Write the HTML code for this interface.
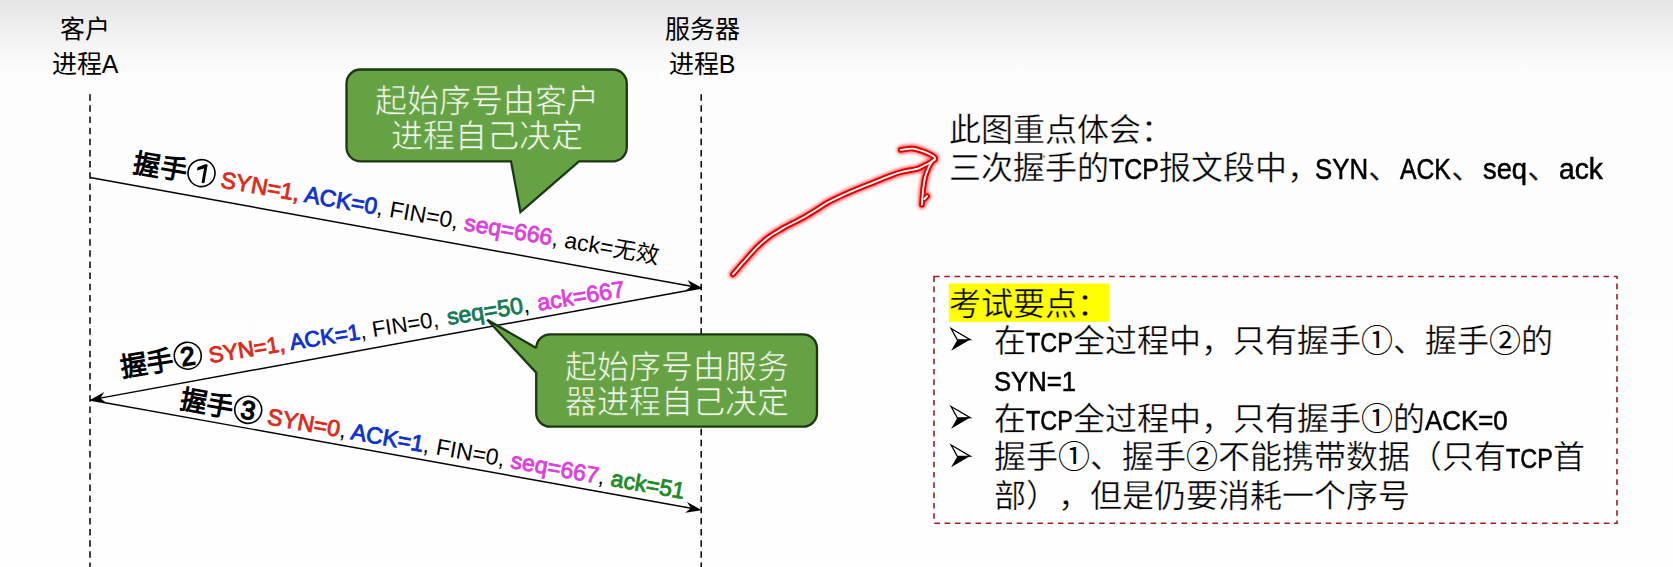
<!DOCTYPE html>
<html lang="zh-CN"><head><meta charset="utf-8">
<style>
html,body{margin:0;padding:0;}
body{width:1673px;height:567px;overflow:hidden;position:relative;
 background:linear-gradient(#e5e5e5 0px,#f0f0f0 30px,#f9f9f9 60px,#fdfdfd 76px,#fefefe 567px);
 font-family:"Liberation Sans",sans-serif;color:#000;}
.abs{position:absolute;white-space:nowrap;}
svg{position:absolute;left:0;top:0;}
.k{fill:#000}.d{fill:#000;stroke:#000;stroke-width:1.3px}.r{fill:#dc2a1a;stroke:#dc2a1a;stroke-width:.85px}.b{fill:#0c31cc;stroke:#0c31cc;stroke-width:.85px}.m{fill:#dd3fdc;stroke:#dd3fdc;stroke-width:.85px}.t{fill:#177a55;stroke:#177a55;stroke-width:.85px}.g{fill:#1d8a2a;stroke:#1d8a2a;stroke-width:.85px}
.rt{font-size:32px;line-height:38px;text-spacing-trim:space-all;-webkit-text-stroke:0.35px #fefefe}
.ns{-webkit-text-stroke:0}
.s1,.s2{display:inline-block;transform-origin:0 0;-webkit-text-stroke:0.55px #000}.s1{font-size:27px}.s2{font-size:28.8px}

</style></head><body>
<svg width="1673" height="567" viewBox="0 0 1673 567">
 <defs>
  <filter id="glow" x="-20%" y="-20%" width="140%" height="140%"><feGaussianBlur stdDeviation="1.5"/></filter>
 </defs>
 <!-- lifelines -->
 <line x1="90" y1="94.2" x2="90" y2="567" stroke="#000" stroke-width="1.5" stroke-dasharray="6.5 4.65"/>
 <line x1="701.2" y1="94.2" x2="701.2" y2="567" stroke="#000" stroke-width="1.5" stroke-dasharray="6.5 4.65"/>
 <!-- arrows -->
 <g stroke="#000" stroke-width="1.45" fill="none">
  <line x1="90" y1="177.5" x2="694" y2="286.7"/>
  <line x1="701.5" y1="288" x2="97.5" y2="398.6"/>
  <line x1="90" y1="400" x2="694" y2="508.7"/>
 </g>
 <g fill="#000">
  <path d="M0 0 L-16 -5.4 L-11 0 L-16 5.4 Z" transform="translate(702.3 288.1) rotate(10.24)"/>
  <path d="M0 0 L-16 -5.4 L-11 0 L-16 5.4 Z" transform="translate(89.5 400.2) rotate(169.62)"/>
  <path d="M0 0 L-16 -5.4 L-11 0 L-16 5.4 Z" transform="translate(701.8 510.2) rotate(10.2)"/>
 </g>
 <!-- labels -->
 <g font-family="Liberation Sans" font-size="23" >
  <g transform="translate(132 171.8) rotate(9.95)">
   <text font-weight="bold" font-size="27">握手</text>
   <circle cx="68.7" cy="-10.7" r="13.5" fill="none" stroke="#000" stroke-width="1.6"/>
   <path d="M63.8 -15.8 L70.8 -20.2 L73.3 -20.2 L73.3 -1.2 L70.4 -1.2 L70.4 -15.6 L63.8 -12.6 Z"/>
   <text x="89"><tspan class="r">SYN=1,</tspan><tspan class="b"> ACK=0</tspan><tspan class="k">, FIN=0, </tspan><tspan class="m">seq=666</tspan><tspan class="k">, ack=无效</tspan></text>
  </g>
  <g transform="translate(121.6 377.1) rotate(-9.05)">
   <text font-weight="bold" font-size="27">握手</text>
   <circle cx="68.7" cy="-10.7" r="13.5" fill="none" stroke="#000" stroke-width="1.6"/>
   <text x="68.7" y="-1.3" font-size="26" text-anchor="middle" class="d">2</text>
   <text x="89.5" font-size="22.2"><tspan class="r">SYN=1,</tspan><tspan class="b"> ACK=1</tspan><tspan class="k">, FIN=0, </tspan><tspan class="t" font-size="23.2" dx="2.5">seq=50</tspan><tspan class="k" font-size="23.2">, </tspan><tspan class="m" font-size="23.2" dx="2">ack=667</tspan></text>
  </g>
  <g transform="translate(178.7 408.2) rotate(10.2)">
   <text font-weight="bold" font-size="27">握手</text>
   <circle cx="68.7" cy="-10.7" r="13.5" fill="none" stroke="#000" stroke-width="1.6"/>
   <text x="68.7" y="-1.3" font-size="26" text-anchor="middle" class="d">3</text>
   <text x="89"><tspan class="r">SYN=0</tspan><tspan class="k">, </tspan><tspan class="b">ACK=1</tspan><tspan class="k">, FIN=0, </tspan><tspan class="m">seq=667</tspan><tspan class="k">, </tspan><tspan class="g">ack=51</tspan></text>
  </g>
 </g>
 <!-- callout 1 -->
 <path d="M360.5 69.5 H612.8 A14 14 0 0 1 626.8 83.5 V147.3 A14 14 0 0 1 612.8 161.3 H579 L520.5 212 L511 161.3 H360.5 A14 14 0 0 1 346.5 147.3 V83.5 A14 14 0 0 1 360.5 69.5 Z" fill="#64a243" stroke="#1b3813" stroke-width="2.3"/>
 <!-- callout 2 -->
 <path d="M550.2 334.3 H803 A14 14 0 0 1 817 348.3 V412.7 A14 14 0 0 1 803 426.7 H550.2 A14 14 0 0 1 536.2 412.7 V372.8 L487.3 319.8 L536.2 348 V348.3 A14 14 0 0 1 550.2 334.3 Z" fill="#64a243" stroke="#1b3813" stroke-width="2.3"/>
 <!-- red arrow -->
 <defs><path id="ra1" d="M732.9 274.4 C734.8 272.3 740.0 266.2 744.0 261.7 C748.0 257.2 752.6 251.7 756.7 247.6 C760.8 243.5 764.5 240.2 768.5 237.2 C772.5 234.2 776.5 232.0 780.6 229.6 C784.7 227.2 789.3 224.9 793.3 222.8 C797.3 220.7 800.7 219.1 804.4 217.0 C808.1 214.9 811.5 212.8 815.5 210.3 C819.5 207.9 823.3 205.0 828.2 202.3 C833.1 199.6 840.0 196.5 845.0 194.2 C850.0 191.9 853.8 190.3 858.0 188.6 C862.2 186.9 866.2 185.4 870.0 183.9 C873.8 182.4 877.1 181.0 880.6 179.6 C884.1 178.2 887.7 176.7 891.2 175.4 C894.7 174.1 898.3 172.8 901.8 171.9 C905.3 171.0 909.6 170.3 912.3 169.8 C915.0 169.3 916.2 169.3 918.0 168.7 C919.8 168.1 920.9 167.2 922.9 166.2 C924.9 165.2 928.1 163.8 930.0 162.7 C931.9 161.6 933.8 160.0 934.5 159.5"/><path id="ra2" d="M900.7 149.9 C902.7 149.7 908.6 148.3 912.6 148.6 C916.6 148.9 921.0 150.6 924.5 151.9 C928.0 153.2 932.0 155.3 933.8 156.5 C935.5 157.7 935.2 158.4 935.0 159.2 C934.8 160.0 933.5 159.8 932.4 161.2 C931.3 162.6 929.7 165.2 928.5 167.8 C927.3 170.4 926.1 173.5 925.2 177.0 C924.3 180.5 923.8 184.4 923.2 189.0 C922.7 193.6 922.1 202.2 921.9 204.8"/><path id="ra3" d="M927.1 196.2 L924.3 199.2"/></defs>
 <g fill="none" stroke-linecap="round" stroke-linejoin="round">
  <g stroke="#ff2020" stroke-width="8.5" filter="url(#glow)" opacity="0.7"><use href="#ra1"/><use href="#ra2"/><use href="#ra3"/></g>
  <g stroke="#e00000" stroke-width="5.6"><use href="#ra1"/><use href="#ra2"/><use href="#ra3"/></g>
  <g stroke="#ffffff" stroke-width="1.8"><use href="#ra1"/><use href="#ra2"/><use href="#ra3"/></g>
 </g>
 <circle cx="1043.9" cy="156.5" r="1.3" fill="#e84040" opacity="0.7"/>
 <!-- dashed box -->
 <rect x="934" y="276.5" width="683" height="246.7" fill="none" stroke="#9c1c22" stroke-width="1.6" stroke-dasharray="5.6 4.7"/>
 <rect x="948.8" y="283.5" width="160.5" height="38.3" fill="#ffff00"/>
</svg>
<div class="abs" style="left:51px;top:12px;font-size:25px;line-height:35px;text-align:center;width:68px">客户<br>进程A</div>
<div class="abs" style="left:663px;top:12px;font-size:25px;line-height:35px;text-align:center;width:78px">服务器<br>进程B</div>
<div class="abs" style="left:362px;top:83.5px;font-size:32px;line-height:35px;color:#f6f9ee;width:250px;text-align:center;-webkit-text-stroke:0.6px #64a243">起始序号由客户<br>进程自己决定</div>
<div class="abs" style="left:556.5px;top:349.5px;font-size:32px;line-height:35.5px;color:#f6f9ee;width:240px;text-align:center;-webkit-text-stroke:0.6px #64a243">起始序号由服务<br>器进程自己决定</div>
<div class="abs rt" style="left:949px;top:111px">此图重点体会：</div>
<div class="abs rt" style="left:949px;top:149px">三次握手的<span class="s2" style="transform:scaleX(.864);margin-right:-7.8px">TCP</span>报文段中<span style="margin-right:-3.5px">，</span><span class="s2" style="transform:scaleX(.896);margin-right:-6.2px">SYN</span>、<span class="s2" style="transform:scaleX(.857);margin-right:-8.5px">ACK</span>、<span class="s2" style="transform:scaleX(.949);margin-right:-2.4px">seq</span>、<span class="s2" style="transform:scaleX(.98);margin-right:-0.9px">ack</span></div>
<div class="abs rt" style="left:949px;top:285px;-webkit-text-stroke:0.35px #ffff00">考试要点：</div>
<div class="abs rt" style="left:994px;top:322px">在<span class="s1" style="transform:scaleX(.866);margin-right:-7.2px">TCP</span>全过程中，只有握手<span class="ns">①</span>、握手<span class="ns">②</span>的</div>
<div class="abs rt" style="left:994px;top:360.5px"><span class="s1" style="transform:scaleX(.95);margin-right:-4.3px">SYN=1</span></div>
<div class="abs rt" style="left:994px;top:400px">在<span class="s1" style="transform:scaleX(.866);margin-right:-7.2px">TCP</span>全过程中，只有握手<span class="ns">①</span>的<span class="s1" style="transform:scaleX(.957);margin-right:-3.7px">ACK=0</span></div>
<div class="abs rt" style="left:994px;top:438px">握手<span class="ns">①</span>、握手<span class="ns">②</span>不能携带数据（只有<span class="s1" style="transform:scaleX(.866);margin-right:-7.2px">TCP</span>首</div>
<div class="abs rt" style="left:994px;top:476.5px">部），但是仍要消耗一个序号</div>
<svg width="1673" height="567" style="position:absolute;left:0;top:0">
 <defs><g id="bul"><path d="M0 0 L19.1 11.1 L6.2 11.4 Z" fill="none" stroke="#000" stroke-width="1.3" stroke-linejoin="miter"/><path d="M19.1 11.1 L0 22.2 L6.2 11.4 Z" fill="#000"/></g></defs>
 <use href="#bul" x="951.1" y="328.5"/>
 <use href="#bul" x="951.1" y="406.5"/>
 <use href="#bul" x="951.1" y="445"/>
</svg>
</body></html>
